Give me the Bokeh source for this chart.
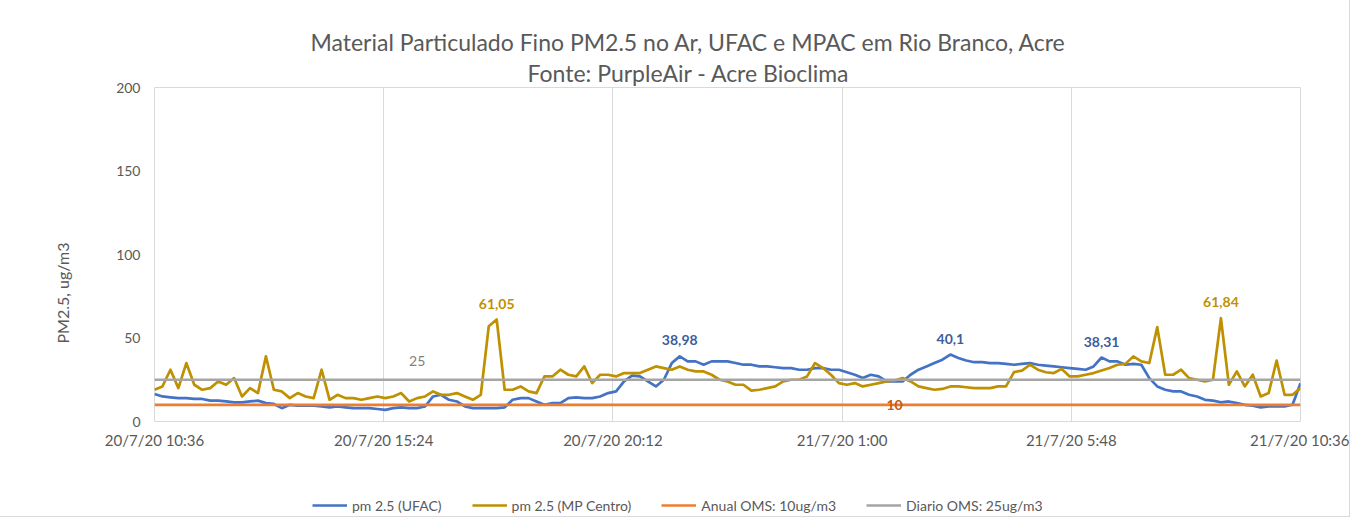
from bokeh.plotting import figure
from bokeh.layouts import column
from bokeh.models import FixedTicker, Legend, LegendItem, Title, ColumnDataSource
from bokeh.embed import file_html
from bokeh.resources import INLINE
from bokeh.core.properties import value

FONT = "Lato"

# time axis: minutes after 20/7/20 10:36, one reading every 10 minutes
minutes = [10 * i for i in range(145)]

ufac = [16.5, 15, 14.5, 14, 14, 13.5, 13.5, 12.5, 12.5, 12, 11.5, 11.5, 12, 12.5, 11, 10.5, 8, 10, 9.5, 9.5,
        9.5, 9, 8.5, 9, 8.5, 8, 8, 8, 7.5, 7,
        8, 8.5, 8, 8, 9, 15, 16, 13, 12, 9, 8, 8, 8, 8, 8.5, 13, 14, 14, 12, 10,
        11, 11, 14, 14.5, 14, 14, 15, 17, 18,
        24, 27.5, 27, 24, 21, 25, 35, 38.98, 36, 36, 34, 36, 36, 36, 35, 34, 34, 33, 33, 32.5,
        32, 32, 31, 31, 32, 32, 31, 31, 29.5,
        28, 26, 28, 27, 24, 24, 24, 28, 31, 33, 35, 37, 40.1, 38, 36.5, 35.5, 35.5, 35, 35, 34.5,
        34, 34.5, 35, 34, 33.5, 33, 32.5, 32, 31.5,
        31, 33, 38.31, 36, 36, 34, 34.5, 34, 26, 21, 19, 18, 18, 16, 15, 13, 12.5, 11.5, 12, 11,
        10, 9.5, 8.5, 9, 9, 9, 10, 23]

centro = [19, 21, 31, 20, 35, 22, 19, 20, 24, 22, 26, 15, 20, 17, 39, 19, 18, 14, 17, 15,
          14, 31, 13, 16, 14, 14, 13, 14, 15, 14,
          15, 17, 12, 14, 15, 18, 16, 16, 17, 15, 13, 16, 57, 61.05, 19, 19, 21, 18, 17, 27,
          27, 31, 28, 27, 33, 23, 28, 28, 27,
          29, 29, 29, 31, 33, 32, 31, 33, 31, 30, 30, 28, 25, 24, 22, 22, 18.5, 19, 20, 21,
          24, 25, 25, 27, 35, 32, 28, 23, 22,
          23, 21, 22, 23, 24, 24.5, 26, 24, 21, 20, 19, 19.5, 21, 21, 20.5, 20, 20, 20, 21, 21,
          29.6, 30.5, 34, 31, 29.5, 29, 31.5, 27, 27,
          28, 29, 30.5, 32, 34, 34.5, 39, 36, 35, 56.5, 28, 28, 31, 26, 25, 24, 25, 61.84, 22, 30,
          21, 28, 15, 17, 36.5, 16, 16, 20]

anual_oms = 10
diario_oms = 25

tick_minutes = [0, 288, 576, 864, 1152, 1440]
tick_labels = ["20/7/20 10:36", "20/7/20 15:24", "20/7/20 20:12",
               "21/7/20 1:00", "21/7/20 5:48", "21/7/20 10:36"]
y_ticks = [0, 50, 100, 150, 200]

# data labels: index of labelled point in each series
label_ufac_idx = [66, 100, 119]
label_centro_idx = [43, 134]
label_diario_idx = 33
label_anual_idx = 93

title_1 = "Material Particulado Fino PM2.5 no Ar,  UFAC e  MPAC em Rio Branco, Acre"
title_2 = "Fonte: PurpleAir - Acre Bioclima"
y_label = "PM2.5, ug/m3"
names = ["pm 2.5 (UFAC)", "pm 2.5 (MP Centro)", "Anual OMS: 10ug/m3", "Diario OMS: 25ug/m3"]

BLUE = "#4472C4"
GOLD = "#BF9000"
ORANGE = "#ED7D31"
GRAY = "#A5A5A5"
TXT = "#595959"
colors = [BLUE, GOLD, ORANGE, GRAY]
W = 2.7

p = figure(width=1349, height=481, frame_width=1146, frame_height=334,
           x_range=(0, 1440), y_range=(0, 200),
           output_backend="svg", toolbar_location=None,
           min_border_left=154, min_border_right=49, min_border_top=87, min_border_bottom=60)
p.outline_line_color = "#D9D9D9"
p.outline_line_width = 1
p.border_fill_color = "white"
p.background_fill_color = "white"

# titles: line 2 first (nearest the frame), then line 1 above it
p.add_layout(Title(text=title_2, align="left", offset=373, standoff=2,
                   text_font=FONT, text_font_size="23px", text_font_style="normal",
                   text_color=TXT), "above")
p.add_layout(Title(text=title_1, align="left", offset=156, standoff=0,
                   text_font=FONT, text_font_size="23px", text_font_style="normal",
                   text_color=TXT), "above")

# axes
p.xaxis.ticker = FixedTicker(ticks=tick_minutes)
p.xaxis.major_label_overrides = {t: l for t, l in zip(tick_minutes, tick_labels)}
p.yaxis.ticker = FixedTicker(ticks=y_ticks)
for ax in (p.xaxis, p.yaxis):
    ax.axis_line_color = None
    ax.major_tick_line_color = None
    ax.minor_tick_line_color = None
    ax.major_label_text_font = FONT
    ax.major_label_text_color = TXT
p.xaxis.major_label_text_font_size = "15px"
p.yaxis.major_label_text_font_size = "14px"
p.xaxis.major_label_standoff = 3
p.yaxis.major_label_standoff = 8

# y axis title, placed along the axis like the reference
p.add_layout(Title(text=y_label, align="left", offset=78, standoff=84,
                   text_font=FONT, text_font_size="16px", text_font_style="normal",
                   text_color=TXT), "left")

p.ygrid.grid_line_color = None
p.xgrid.ticker = FixedTicker(ticks=tick_minutes)
p.xgrid.grid_line_color = "#D9D9D9"
p.xgrid.grid_line_width = 1

p.line(minutes, ufac, line_color=BLUE, line_width=W, line_join="round")
p.line(minutes, centro, line_color=GOLD, line_width=W, line_join="round")
p.line([minutes[0], minutes[-1]], [anual_oms, anual_oms], line_color=ORANGE, line_width=W)
p.line([minutes[0], minutes[-1]], [diario_oms, diario_oms], line_color=GRAY, line_width=W)

def fmt(v):
    return f"{v:g}".replace(".", ",")

lab_src = ColumnDataSource(dict(
    x=[minutes[i] for i in label_centro_idx] + [minutes[i] for i in label_ufac_idx],
    y=[centro[i] for i in label_centro_idx] + [ufac[i] for i in label_ufac_idx],
    text=[fmt(centro[i]) for i in label_centro_idx] + [fmt(ufac[i]) for i in label_ufac_idx],
    color=[GOLD] * len(label_centro_idx) + ["#3D5D9A"] * len(label_ufac_idx),
))
p.text(x="x", y="y", text="text", text_color="color", source=lab_src,
       text_font=value(FONT), text_font_size="14px", text_font_style="bold",
       text_align="center", text_baseline="bottom", y_offset=-11)

# constant-line labels
p.text(x=[minutes[label_diario_idx]], y=[diario_oms], text=[fmt(diario_oms)], text_color="#7F7F7F",
       text_font=value(FONT), text_font_size="14px",
       text_align="center", text_baseline="bottom", y_offset=-14)
p.text(x=[minutes[label_anual_idx]], y=[anual_oms], text=[fmt(anual_oms)], text_color="#C55A11",
       text_font=value(FONT), text_font_size="14px", text_font_style="bold",
       text_align="center", text_baseline="middle")

# legend strip beneath the chart (its frame is aligned with the chart frame)
lf = figure(width=1349, height=35, x_range=(0, 1), y_range=(0, 1),
            output_backend="svg", toolbar_location=None, min_border=0)
lf.axis.visible = False
lf.grid.grid_line_color = None
lf.outline_line_color = None
lf.border_fill_color = "white"
# legend-only line renderers, kept outside the visible range of the strip
leg_renderers = [lf.line([-2, -1], [-2, -2], line_color=c, line_width=W) for c in colors]
legend = Legend(items=[LegendItem(label=n, renderers=[r]) for n, r in zip(names, leg_renderers)],
                orientation="horizontal", location=(158, 2),
                label_text_font=FONT, label_text_font_size="14px", label_text_color=TXT,
                glyph_width=35, glyph_height=18, label_standoff=5, spacing=30,
                padding=0, margin=0, border_line_color=None, background_fill_alpha=0)
lf.add_layout(legend)

layout = column(p, lf, spacing=0, styles={"outline": "1px solid #D9D9D9"})

open("out.html", "w").write(file_html(layout, INLINE))
